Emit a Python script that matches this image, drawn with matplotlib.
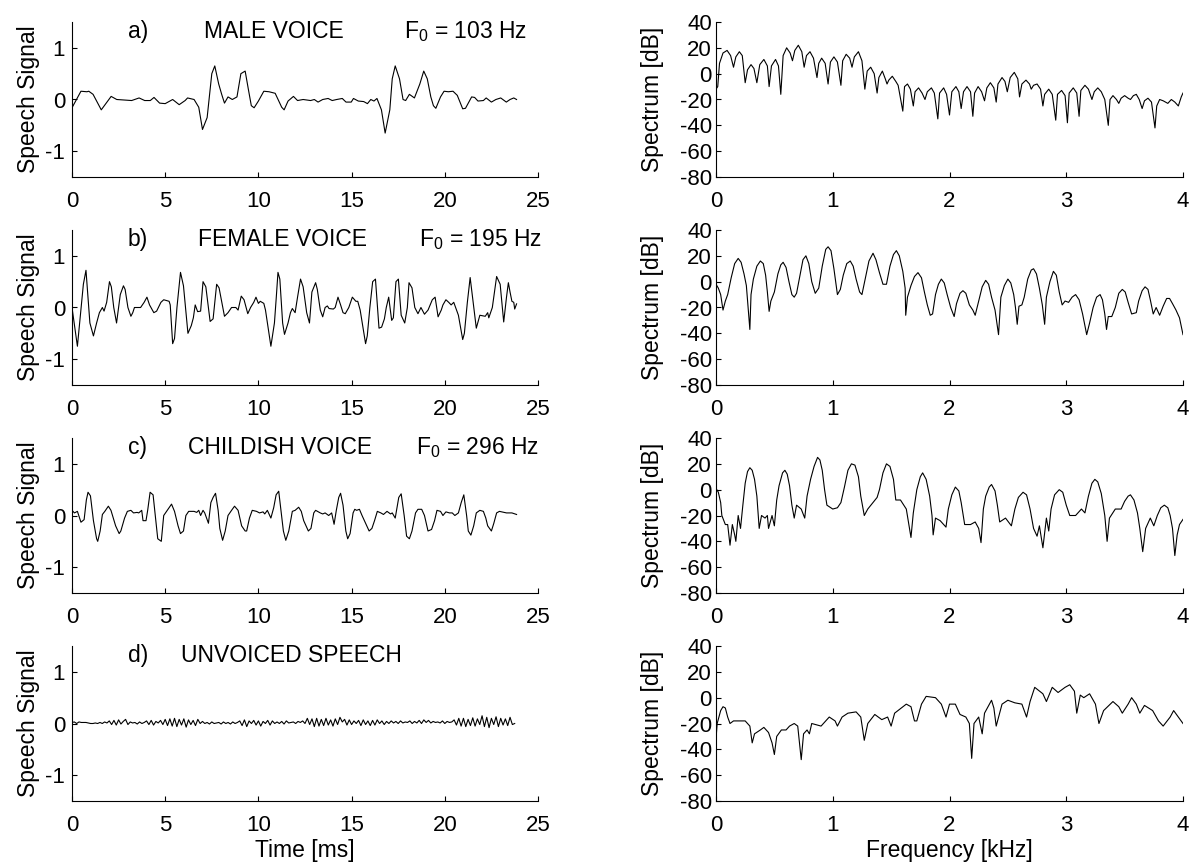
import matplotlib
matplotlib.use("Agg")
import matplotlib.pyplot as plt

plt.rcParams["font.family"] = ["Liberation Sans", "DejaVu Sans"]
plt.rcParams["axes.unicode_minus"] = False
plt.rcParams["mathtext.default"] = "regular"

# ---- time signals (t in ms, amplitude) ----
male_t = [0, 0.48, 0.8, 0.9, 1.13, 1.57, 2.1, 2.4, 3.2, 3.6, 3.9, 4.2, 4.4, 4.7, 5.0, 5.25, 5.4, 5.75, 6.07, 6.2,
          6.55, 6.8, 7.0, 7.25, 7.5, 7.66, 7.87, 8.03, 8.18, 8.37, 8.6, 8.85, 9.06, 9.29, 9.46, 9.62, 9.77, 10.0,
          10.29, 10.57, 10.9, 11.25, 11.38, 11.59, 11.88, 12.1, 12.4, 12.8, 13.0, 13.2, 13.45, 13.74, 13.96, 14.2,
          14.5, 14.7, 14.98, 15.1, 15.36, 15.65, 15.85, 16.03, 16.2, 16.36, 16.6, 16.8, 17.05, 17.18, 17.34, 17.57,
          17.76, 17.9, 18.1, 18.37, 18.66, 18.87, 19.06, 19.25, 19.39, 19.52, 19.77, 19.96, 20.19, 20.44, 20.67,
          20.96, 21.11, 21.44, 21.6, 21.78, 22.07, 22.22, 22.5, 22.74, 23.0, 23.3, 23.5, 23.7, 23.85]
male_v = [-0.16, 0.16, 0.15, 0.16, 0.1, -0.2, 0.06, 0.0, -0.02, 0.03, -0.02, -0.02, 0.04, -0.07, -0.08, -0.03, 0.0,
          -0.1, -0.02, 0.03, 0.0, -0.15, -0.58, -0.35, 0.5, 0.65, 0.3, 0.1, -0.07, 0.05, 0.0, 0.05, 0.5, 0.55, 0.2,
          -0.12, -0.16, -0.03, 0.16, 0.15, 0.12, -0.15, -0.2, -0.03, 0.06, -0.02, 0.0, -0.02, 0.0, -0.05, 0.0, 0.02,
          -0.02, 0.0, 0.02, -0.05, -0.05, 0.02, -0.03, -0.04, -0.08, 0.0, -0.03, 0.02, -0.2, -0.65, -0.2, 0.4, 0.65,
          0.4, 0.0, -0.02, 0.1, 0.03, 0.3, 0.55, 0.4, 0.05, -0.12, -0.17, 0.05, 0.16, 0.15, 0.16, 0.08, -0.18, -0.17,
          0.05, 0.04, -0.03, -0.02, 0.03, -0.05, 0.0, 0.03, -0.05, 0.0, 0.03, 0.0]

female_t = [0, 0.29, 0.61, 0.75, 0.96, 1.15, 1.32, 1.47, 1.63, 1.72, 1.86, 2.01, 2.11, 2.24, 2.39, 2.59, 2.76, 2.85,
            3.0, 3.16, 3.26, 3.35, 3.68, 3.87, 4.02, 4.16, 4.39, 4.54, 4.77, 4.92, 5.21, 5.27, 5.40, 5.5, 5.63, 5.82,
            5.98, 6.22, 6.4, 6.51, 6.61, 6.74, 6.9, 7.03, 7.18, 7.41, 7.57, 7.76, 7.89, 8.18, 8.37, 8.56, 8.79, 8.91,
            9.08, 9.23, 9.43, 9.58, 9.75, 9.87, 10.0, 10.1, 10.29, 10.38, 10.57, 10.67, 10.86, 10.96, 11.05, 11.15,
            11.3, 11.4, 11.59, 11.72, 11.82, 11.97, 12.1, 12.26, 12.4, 12.59, 12.74, 12.87, 13.07, 13.16, 13.32,
            13.45, 13.58, 13.7, 13.79, 14.02, 14.12, 14.27, 14.41, 14.54, 14.66, 14.85, 15.04, 15.23, 15.33, 15.46,
            15.75, 15.84, 15.98, 16.13, 16.28, 16.47, 16.61, 16.76, 16.86, 16.99, 17.15, 17.24, 17.38, 17.51, 17.66,
            17.85, 17.99, 18.08, 18.24, 18.39, 18.56, 18.72, 18.91, 19.1, 19.33, 19.48, 19.64, 19.81, 19.9, 20.06,
            20.21, 20.34, 20.48, 20.73, 20.96, 21.05, 21.21, 21.36, 21.49, 21.69, 21.88, 22.17, 22.3, 22.36, 22.55,
            22.78, 22.97, 23.16, 23.31, 23.41, 23.5, 23.6, 23.7, 23.75, 23.85]
female_v = [0.0, -0.75, 0.45, 0.72, -0.3, -0.55, -0.3, -0.1, 0.0, -0.07, 0.1, 0.5, 0.4, 0.0, -0.3, 0.25, 0.42, 0.35,
            0.0, -0.17, -0.1, 0.0, 0.0, 0.1, 0.2, 0.05, -0.1, -0.07, 0.1, 0.15, 0.12, 0.05, -0.7, -0.6, 0.0, 0.68,
            0.42, -0.5, -0.35, -0.2, 0.05, -0.08, -0.07, 0.5, 0.4, -0.27, -0.22, 0.45, 0.38, -0.17, -0.1, 0.0, 0.0,
            -0.05, 0.22, 0.15, -0.12, 0.0, 0.1, 0.2, 0.08, 0.12, 0.08, -0.05, -0.5, -0.75, -0.3, 0.2, 0.68, 0.55,
            -0.3, -0.52, -0.3, -0.1, -0.02, -0.1, 0.2, 0.55, 0.4, -0.1, -0.3, 0.3, 0.48, 0.35, -0.05, -0.18, 0.0,
            0.03, -0.02, -0.03, 0.0, 0.2, 0.05, -0.1, -0.12, 0.0, 0.2, 0.12, 0.12, -0.05, -0.7, -0.55, 0.0, 0.5,
            0.55, -0.4, -0.38, -0.22, 0.0, 0.2, -0.25, -0.2, 0.5, 0.55, -0.15, -0.3, 0.0, 0.48, 0.38, 0.0, -0.12,
            0.0, -0.13, -0.05, 0.15, 0.2, -0.18, -0.05, 0.05, 0.15, 0.1, 0.05, 0.1, -0.15, -0.62, -0.5, 0.1, 0.58,
            0.2, -0.4, -0.15, -0.17, -0.1, -0.2, 0.0, 0.6, 0.45, -0.28, 0.2, 0.48, 0.3, 0.12, 0.1, -0.03, 0.07]

child_t = [0, 0.13, 0.29, 0.48, 0.65, 0.77, 0.86, 0.99, 1.15, 1.32, 1.38, 1.51, 1.63, 1.76, 1.95, 2.09, 2.34, 2.53,
           2.62, 2.82, 2.97, 3.16, 3.3, 3.49, 3.58, 3.74, 3.81, 3.97, 4.06, 4.19, 4.35, 4.48, 4.6, 4.79, 4.92, 5.11,
           5.34, 5.5, 5.69, 5.82, 5.98, 6.11, 6.26, 6.55, 6.69, 6.8, 6.9, 7.03, 7.12, 7.32, 7.45, 7.57, 7.7, 7.84,
           7.93, 8.08, 8.22, 8.37, 8.56, 8.72, 8.91, 9.1, 9.29, 9.37, 9.52, 9.67, 9.9, 10.06, 10.25, 10.34, 10.48,
           10.67, 10.82, 10.95, 11.09, 11.24, 11.34, 11.47, 11.63, 11.82, 11.97, 12.16, 12.3, 12.43, 12.68, 12.82,
           12.97, 13.07, 13.32, 13.45, 13.58, 13.77, 13.93, 14.06, 14.18, 14.31, 14.41, 14.54, 14.69, 14.79, 14.92,
           15.08, 15.17, 15.27, 15.42, 15.56, 15.75, 15.94, 16.09, 16.23, 16.38, 16.57, 16.71, 16.9, 17.09, 17.18,
           17.34, 17.53, 17.66, 17.82, 17.95, 18.1, 18.24, 18.43, 18.56, 18.76, 18.91, 19.1, 19.29, 19.45, 19.58,
           19.77, 19.9, 20.06, 20.25, 20.4, 20.54, 20.73, 20.88, 21.02, 21.17, 21.26, 21.4, 21.55, 21.69, 21.88,
           22.07, 22.2, 22.3, 22.5, 22.63, 22.78, 22.93, 23.31, 23.6, 23.85]
child_v = [0.1, 0.05, 0.08, -0.13, -0.08, 0.3, 0.45, 0.38, -0.1, -0.45, -0.5, -0.3, 0.02, 0.08, 0.18, 0.1, -0.2,
           -0.35, -0.3, -0.05, 0.08, 0.1, 0.05, 0.06, 0.05, 0.1, -0.1, -0.1, 0.1, 0.45, 0.4, -0.05, -0.45, -0.5, 0.0,
           0.1, 0.22, 0.08, -0.2, -0.35, -0.3, 0.0, 0.08, 0.08, 0.06, 0.1, 0.0, 0.1, 0.05, -0.15, 0.25, 0.35, 0.43,
           0.1, -0.25, -0.48, -0.3, 0.0, 0.1, 0.18, 0.1, -0.2, -0.3, -0.3, -0.05, 0.1, 0.08, 0.05, 0.07, 0.03, 0.1,
           -0.05, 0.15, 0.4, 0.47, 0.0, -0.3, -0.48, -0.3, 0.08, 0.1, 0.16, 0.08, -0.1, -0.3, -0.25, 0.05, 0.1,
           0.05, 0.03, 0.05, 0.0, 0.05, -0.17, 0.1, 0.35, 0.43, 0.2, -0.3, -0.45, -0.35, 0.05, 0.12, 0.1, 0.12, 0.0,
           -0.15, -0.3, -0.25, -0.1, 0.08, 0.05, 0.02, 0.08, 0.03, 0.05, -0.05, 0.35, 0.42, 0.0, -0.4, -0.45, -0.3,
           0.05, 0.12, 0.12, 0.0, -0.3, -0.27, -0.1, 0.1, 0.08, 0.0, 0.07, 0.05, 0.05, 0.0, 0.05, 0.25, 0.4, 0.0,
           -0.3, -0.38, -0.2, 0.05, 0.1, 0.08, -0.05, -0.2, -0.3, -0.15, 0.05, 0.08, 0.05, 0.05, 0.02]

# unvoiced: 8 kHz samples, one row per millisecond
unvoiced_fs = 8.0  # samples per ms
unvoiced_v = [0.02, 0.03, 0.0, 0.03, 0.02, 0.02, 0.02, 0.01,
              0.0, 0.0, 0.01, 0.0, 0.02, 0.0, 0.03, 0.01,
              0.05, -0.02, 0.06, -0.03, 0.07, -0.01, 0.04, 0.08,
              -0.02, 0.03, 0.01, 0.02, -0.01, 0.03, 0.0, 0.02,
              0.05, -0.02, 0.06, -0.03, 0.04, 0.01, 0.06, -0.02,
              0.08, -0.04, 0.09, -0.05, 0.1, -0.06, 0.08, -0.03,
              0.09, -0.07, 0.07, -0.02, 0.06, -0.04, 0.08, 0.0,
              0.04, 0.0, 0.02, -0.01, 0.03, 0.0, 0.01, 0.02,
              -0.01, 0.03, 0.0, 0.02, -0.01, 0.03, 0.0, 0.02,
              0.05, -0.04, 0.07, -0.06, 0.05, 0.0, 0.06, -0.03,
              0.05, -0.05, 0.04, 0.0, 0.06, -0.03, 0.05, 0.0,
              0.03, 0.0, 0.04, -0.01, 0.05, 0.01, 0.02, 0.03,
              0.0, 0.04, 0.02, 0.05, 0.0, 0.1, -0.02, 0.09,
              -0.06, 0.1, -0.05, 0.08, -0.04, 0.1, -0.03, 0.07,
              -0.05, 0.09, -0.02, 0.12, 0.03, 0.08, -0.03, 0.07,
              -0.02, 0.05, 0.0, 0.06, -0.04, 0.07, -0.02, 0.05,
              -0.04, 0.06, -0.03, 0.07, 0.0, 0.05, -0.02, 0.04,
              0.0, 0.05, 0.01, 0.04, 0.0, 0.05, 0.01, 0.03,
              0.02, 0.05, 0.0, 0.04, 0.01, 0.06, 0.0, 0.07,
              0.02, 0.06, 0.01, 0.04, 0.02, 0.03, 0.01, 0.05,
              0.0, 0.04, 0.02, 0.03, 0.07, -0.03, 0.1, -0.05,
              0.1, -0.06, 0.08, -0.04, 0.11, -0.05, 0.09, -0.02,
              0.15, -0.06, 0.12, -0.08, 0.1, -0.02, 0.13, -0.06,
              0.1, -0.03, 0.09, -0.04, 0.12, -0.02, 0.0]
unvoiced_t = [i / unvoiced_fs for i in range(len(unvoiced_v))]

# ---- spectra (kHz, dB) ----
male_f = [0.0, 0.015, 0.03, 0.06, 0.095, 0.125, 0.15, 0.17, 0.2, 0.225, 0.25, 0.27, 0.3, 0.325, 0.35, 0.375, 0.41,
          0.44, 0.455, 0.475, 0.51, 0.535, 0.555, 0.575, 0.605, 0.635, 0.655, 0.675, 0.705, 0.735, 0.755, 0.775,
          0.805, 0.835, 0.865, 0.88, 0.905, 0.935, 0.96, 0.98, 1.01, 1.04, 1.07, 1.085, 1.115, 1.145, 1.165, 1.185,
          1.22, 1.25, 1.275, 1.295, 1.325, 1.355, 1.38, 1.395, 1.425, 1.45, 1.465, 1.48, 1.51, 1.54, 1.56, 1.6,
          1.615, 1.64, 1.665, 1.69, 1.705, 1.735, 1.765, 1.79, 1.81, 1.845, 1.87, 1.9, 1.915, 1.95, 1.975, 2.0,
          2.02, 2.055, 2.08, 2.1, 2.12, 2.15, 2.18, 2.2, 2.215, 2.245, 2.275, 2.3, 2.32, 2.35, 2.38, 2.4, 2.415,
          2.45, 2.475, 2.495, 2.52, 2.555, 2.585, 2.6, 2.62, 2.655, 2.685, 2.7, 2.72, 2.75, 2.78, 2.8, 2.815, 2.85,
          2.88, 2.91, 2.925, 2.96, 2.99, 3.01, 3.025, 3.06, 3.09, 3.11, 3.125, 3.16, 3.19, 3.22, 3.24, 3.27, 3.3,
          3.33, 3.36, 3.375, 3.4, 3.43, 3.45, 3.47, 3.5, 3.53, 3.55, 3.575, 3.6, 3.625, 3.65, 3.67, 3.7, 3.73,
          3.76, 3.775, 3.8, 3.83, 3.87, 3.9, 3.93, 3.96, 3.985, 4.0]
male_db = [-12, -10, 8, 16, 18, 14, 5, 13, 17, 14, -7, 3, 7, 4, -7, 7, 11, 6, -10, 6, 11, 6, -16, 14, 20, 16, 10,
           18, 22, 17, 5, 14, 17, 12, -3, 8, 12, 8, -8, 9, 13, 9, -9, 10, 15, 12, 5, 13, 17, 10, -12, 2, 5, 0, -15,
           -3, 2, -4, -8, -5, -2, -6, -9, -29, -10, -8, -12, -25, -14, -11, -15, -20, -14, -11, -15, -35, -15, -11,
           -16, -32, -14, -10, -14, -27, -14, -10, -14, -33, -15, -10, -14, -21, -11, -7, -11, -22, -8, -3, -6, -14,
           -3, 1, -4, -18, -8, -5, -8, -12, -9, -8, -12, -25, -16, -12, -16, -36, -16, -13, -17, -38, -15, -11, -15,
           -33, -13, -9, -12, -20, -14, -11, -14, -20, -40, -20, -17, -20, -23, -19, -17, -19, -20, -17, -16, -20,
           -27, -21, -19, -22, -42, -25, -20, -21, -23, -20, -22, -25, -18, -15]

female_f = [0.0, 0.02, 0.04, 0.06, 0.08, 0.1, 0.13, 0.16, 0.19, 0.215, 0.24, 0.26, 0.29, 0.3, 0.32, 0.35, 0.38,
            0.405, 0.425, 0.44, 0.455, 0.47, 0.5, 0.53, 0.555, 0.575, 0.6, 0.625, 0.65, 0.67, 0.69, 0.72, 0.745,
            0.77, 0.795, 0.82, 0.85, 0.88, 0.91, 0.94, 0.96, 0.985, 1.01, 1.04, 1.065, 1.09, 1.12, 1.15, 1.175, 1.2,
            1.23, 1.25, 1.28, 1.31, 1.345, 1.37, 1.4, 1.43, 1.46, 1.49, 1.52, 1.545, 1.57, 1.6, 1.62, 1.625, 1.64,
            1.67, 1.7, 1.73, 1.76, 1.785, 1.81, 1.835, 1.855, 1.88, 1.905, 1.93, 1.955, 1.98, 2.01, 2.04, 2.06,
            2.09, 2.115, 2.14, 2.17, 2.2, 2.22, 2.25, 2.28, 2.31, 2.335, 2.36, 2.39, 2.42, 2.44, 2.47, 2.5, 2.525,
            2.55, 2.565, 2.58, 2.595, 2.62, 2.64, 2.67, 2.7, 2.72, 2.745, 2.77, 2.795, 2.815, 2.83, 2.86, 2.89,
            2.915, 2.94, 2.965, 2.99, 3.02, 3.05, 3.08, 3.11, 3.14, 3.175, 3.2, 3.23, 3.26, 3.29, 3.31, 3.33,
            3.345, 3.36, 3.39, 3.42, 3.45, 3.48, 3.505, 3.53, 3.56, 3.6, 3.62, 3.65, 3.675, 3.7, 3.72, 3.745, 3.77,
            3.8, 3.83, 3.86, 3.885, 3.91, 3.94, 3.97, 4.0]
female_db = [-2, -5, -10, -22, -15, -10, 3, 14, 18, 15, 6, -3, -37, -10, 2, 12, 16, 14, 5, -8, -23, -15, -8, 6, 13,
             15, 11, 0, -10, -12, -9, 5, 17, 20, 14, 0, -9, -5, 12, 25, 27, 24, 10, -10, -6, 5, 14, 16, 12, 2, -8,
             -10, 3, 16, 22, 17, 7, -2, -2, 12, 21, 24, 20, 8, -5, -26, -12, -3, 4, 7, 3, -8, -18, -26, -25, -10, -2,
             2, -1, -10, -20, -27, -17, -9, -7, -9, -18, -22, -26, -15, -4, 1, -2, -12, -22, -41, -12, -3, 2, -1,
             -10, -20, -33, -19, -18, -12, 2, 9, 10, 6, -5, -18, -33, -12, 0, 8, 5, -8, -18, -15, -16, -12, -10,
             -14, -25, -41, -32, -20, -12, -10, -14, -25, -37, -27, -27, -20, -9, -6, -8, -16, -25, -24, -15, -7,
             -4, -6, -14, -25, -20, -26, -19, -13, -13, -17, -22, -28, -41]

child_f = [0.0, 0.02, 0.04, 0.05, 0.08, 0.1, 0.12, 0.14, 0.16, 0.17, 0.19, 0.21, 0.23, 0.25, 0.27, 0.29, 0.31, 0.33,
           0.35, 0.37, 0.39, 0.42, 0.44, 0.45, 0.48, 0.5, 0.52, 0.54, 0.57, 0.59, 0.61, 0.63, 0.65, 0.67, 0.69, 0.73,
           0.76, 0.78, 0.81, 0.84, 0.87, 0.89, 0.91, 0.93, 0.95, 1.0, 1.04, 1.07, 1.1, 1.13, 1.16, 1.19, 1.22, 1.24,
           1.27, 1.3, 1.38, 1.4, 1.43, 1.46, 1.49, 1.52, 1.54, 1.58, 1.63, 1.67, 1.69, 1.72, 1.75, 1.77, 1.8, 1.83,
           1.85, 1.86, 1.88, 1.92, 1.97, 1.99, 2.02, 2.05, 2.08, 2.1, 2.13, 2.18, 2.22, 2.25, 2.27, 2.29, 2.31, 2.34,
           2.36, 2.39, 2.41, 2.43, 2.48, 2.53, 2.56, 2.59, 2.63, 2.66, 2.69, 2.72, 2.75, 2.77, 2.8, 2.83, 2.85, 2.87,
           2.9, 2.94, 2.97, 3.0, 3.03, 3.08, 3.13, 3.16, 3.19, 3.22, 3.245, 3.27, 3.3, 3.33, 3.35, 3.37, 3.42, 3.47,
           3.5, 3.53, 3.55, 3.58, 3.61, 3.63, 3.655, 3.68, 3.72, 3.75, 3.78, 3.81, 3.84, 3.87, 3.89, 3.91, 3.93,
           3.95, 3.97, 4.0]
child_db = [1, -2, -10, -20, -27, -27, -43, -27, -35, -40, -20, -30, -12, 5, 14, 17, 15, 8, -5, -30, -20, -22, -20,
            -30, -20, -28, -8, 3, 13, 15, 12, 3, -12, -22, -12, -15, -22, -5, 8, 18, 25, 23, 15, 0, -12, -15, -14,
            -10, 2, 15, 20, 19, 10, -5, -20, -15, -6, 0, 13, 20, 18, 8, -8, -8, -15, -37, -18, 0, 10, 13, 8, -5,
            -20, -35, -22, -24, -29, -15, -4, 2, -1, -10, -27, -27, -25, -30, -41, -15, -5, 2, 4, -1, -12, -25, -22,
            -28, -15, -6, -2, -4, -15, -30, -36, -28, -45, -22, -32, -15, -4, 0, -2, -12, -20, -20, -15, -18, -5, 5,
            8, 6, -3, -20, -40, -22, -15, -15, -9, -5, -4, -8, -18, -30, -48, -30, -22, -28, -20, -14, -12, -14, -20,
            -30, -51, -35, -27, -23]

unvoiced_f = [0.0, 0.01, 0.04, 0.06, 0.08, 0.1, 0.12, 0.15, 0.25, 0.29, 0.31, 0.33, 0.38, 0.41, 0.45, 0.48, 0.5,
              0.52, 0.56, 0.6, 0.63, 0.67, 0.7, 0.73, 0.75, 0.78, 0.8, 0.82, 0.9, 0.97, 1.02, 1.04, 1.08, 1.13,
              1.2, 1.24, 1.27, 1.3, 1.36, 1.42, 1.47, 1.5, 1.53, 1.63, 1.67, 1.7, 1.72, 1.76, 1.8, 1.88, 1.93,
              1.97, 2.0, 2.05, 2.09, 2.14, 2.17, 2.19, 2.21, 2.25, 2.28, 2.3, 2.36, 2.38, 2.4, 2.45, 2.5, 2.56,
              2.62, 2.66, 2.69, 2.73, 2.8, 2.83, 2.88, 2.93, 2.99, 3.03, 3.07, 3.09, 3.12, 3.15, 3.2, 3.25, 3.28,
              3.32, 3.4, 3.45, 3.48, 3.53, 3.56, 3.6, 3.63, 3.67, 3.74, 3.79, 3.83, 3.89, 3.92, 3.96, 4.0]
unvoiced_db = [-32, -20, -10, -7, -8, -15, -20, -18, -18, -22, -35, -28, -25, -23, -27, -35, -44, -30, -25, -25,
               -22, -20, -22, -48, -28, -25, -28, -20, -22, -15, -18, -22, -15, -12, -11, -15, -33, -20, -13, -17,
               -15, -22, -12, -5, -7, -18, -18, -5, 1, 0, -5, -15, -5, -5, -13, -15, -20, -47, -20, -15, -28, -12,
               -2, -8, -22, -5, -2, -4, -5, -15, -3, 8, 3, -3, 8, 4, 8, 10, 5, -12, 2, 0, 3, -5, -20, -10, -3, -7,
               -12, -5, 0, -5, -12, -6, -10, -18, -22, -15, -10, -15, -20]

panels = [
    ("a)", "MALE VOICE", "103", male_t, male_v, male_f, male_db),
    ("b)", "FEMALE VOICE", "195", female_t, female_v, female_f, female_db),
    ("c)", "CHILDISH VOICE", "296", child_t, child_v, child_f, child_db),
    ("d)", "UNVOICED SPEECH", None, unvoiced_t, unvoiced_v, unvoiced_f, unvoiced_db),
]
name_x = [7.1, 6.77, 6.2, 5.86]
f0_x = [17.8, 18.6, 18.45]

W, H = 1196, 863
fig = plt.figure(figsize=(W / 100, H / 100), dpi=100)
fs_tick = 16
fs_lab = 16.5


def style(ax):
    ax.spines["top"].set_visible(False)
    ax.spines["right"].set_visible(False)
    for s in ("left", "bottom"):
        ax.spines[s].set_linewidth(0.8)
    ax.tick_params(direction="in", length=3.5, width=0.8, labelsize=fs_tick, pad=5)
    ax.tick_params(axis="x", pad=10)


for i, (tag, name, f0, t, v, f, db) in enumerate(panels):
    top = 22 + 208 * i
    bot = 177 + 208 * i
    y0 = 1 - bot / H
    h = (bot - top) / H

    ax = fig.add_axes([72 / W, y0, (538 - 72) / W, h])
    ax.plot(t, v, color="black", lw=0.8)
    ax.set_xlim(0, 25)
    ax.set_ylim(-1.5, 1.5)
    ax.set_xticks([0, 5, 10, 15, 20, 25])
    ax.set_yticks([-1, 0, 1])
    style(ax)
    ax.set_ylabel("Speech Signal", fontsize=fs_lab, labelpad=4)
    ax.text(3.0, 1.31, tag, fontsize=fs_lab, va="center")
    ax.text(name_x[i], 1.31, name, fontsize=fs_lab, va="center")
    if f0 is not None:
        ax.text(f0_x[i], 1.31, "F$_0$ = " + f0 + " Hz", fontsize=fs_lab, va="center")
    if i == 3:
        ax.set_xlabel("Time [ms]", fontsize=fs_lab, labelpad=2)

    ax2 = fig.add_axes([716 / W, y0, (1183 - 716) / W, h])
    ax2.plot(f, db, color="black", lw=0.8)
    ax2.set_xlim(0, 4)
    ax2.set_ylim(-80, 40)
    ax2.set_xticks([0, 1, 2, 3, 4])
    ax2.set_yticks([-80, -60, -40, -20, 0, 20, 40])
    style(ax2)
    ax2.tick_params(axis="y", pad=3)
    ax2.set_ylabel("Spectrum [dB]", fontsize=fs_lab, labelpad=11)
    if i == 3:
        ax2.set_xlabel("Frequency [kHz]", fontsize=fs_lab, labelpad=2)

fig.savefig("out.png", dpi=100)
